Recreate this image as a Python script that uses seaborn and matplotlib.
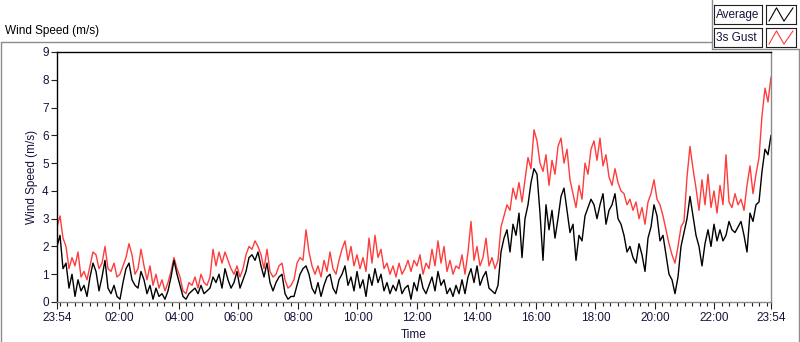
import numpy as np
import pandas as pd
import matplotlib
matplotlib.use("Agg")
import matplotlib.pyplot as plt
import matplotlib.dates as mdates
from matplotlib.lines import Line2D
import seaborn as sns

# ---------------- data ----------------
gust = [2.7, 3.1, 2.3, 2.0, 1.2, 1.6, 1.3, 1.8, 0.9, 1.1, 0.8, 1.3, 1.8, 1.7, 1.2, 1.4, 2.0, 1.2, 1.1, 1.4,
        0.9, 1.0, 1.3, 1.6, 2.1, 1.7, 1.0, 1.2, 1.9, 1.3, 0.8, 1.3, 0.6, 1.0, 0.5, 0.8, 0.4, 0.7, 1.1, 1.6,
        1.2, 0.9, 0.4, 0.3, 0.7, 0.6, 0.9, 0.5, 1.0, 0.7, 0.6, 0.9, 1.9, 1.3, 1.8, 1.4, 1.8, 1.5, 1.2, 1.0,
        1.3, 0.9, 1.2, 1.7, 2.0, 1.9, 2.2, 2.0, 1.7, 1.2, 1.9, 1.1, 0.9, 1.0, 1.3,
        1.4, 0.8, 0.5, 0.6, 0.8, 1.4, 1.6, 1.5, 2.6, 1.8, 1.3, 1.0, 1.3, 0.9, 1.5, 1.1, 1.8, 1.2, 1.0, 1.5,
        1.9, 2.2, 1.5, 2.0, 1.3, 1.7, 1.2, 1.6, 1.1, 2.3, 1.4, 2.4, 1.6, 1.9, 1.2, 1.4, 1.0, 1.3, 0.9, 1.4,
        1.0, 1.2, 1.5, 1.1, 1.5, 1.3, 1.7, 1.0, 1.4, 1.2, 1.9, 1.3, 2.2, 1.4, 2.0, 1.1, 1.5, 1.0, 1.3, 1.2,
        1.7, 1.0, 1.8, 2.9, 1.5, 2.0, 1.3, 1.6, 2.3, 1.3, 1.6, 1.2, 1.5, 2.7, 3.1, 3.5, 3.3, 4.1, 3.7, 4.3,
        3.6, 4.4, 5.2, 4.8, 6.2, 5.8, 5.0, 4.7, 5.3, 4.2, 5.1, 4.6, 5.6, 5.9, 5.0, 5.5, 4.4, 3.9, 3.4, 4.2,
        3.7, 5.0, 4.6, 5.5, 5.8, 5.1, 5.9, 4.9, 5.3, 4.5, 4.2, 4.8, 4.3, 4.0, 3.9, 3.5, 3.7, 3.3, 3.6, 3.0,
        3.4, 2.8, 3.6, 3.9, 4.4, 3.7, 3.5, 3.1, 2.6, 2.1, 1.7, 1.4, 2.0, 2.7, 2.9, 4.5, 5.6, 4.8, 4.1, 3.3,
        4.4, 3.5, 4.6, 3.4, 4.0, 3.2, 4.2, 3.5, 5.3, 3.6, 3.4, 3.9, 3.5, 3.7, 3.3, 4.2, 4.9, 3.9, 4.6, 5.2,
        6.7, 7.7, 7.2, 8.1]

average = [2.0, 2.4, 1.2, 1.4, 0.5, 1.0, 0.2, 0.8, 0.4, 0.6, 0.2, 0.9, 1.4, 1.1, 0.4, 0.9, 1.5, 0.5, 0.3, 0.6,
           0.2, 0.1, 0.7, 1.2, 1.4, 0.8, 0.6, 0.5, 1.1, 0.8, 0.3, 0.6, 0.1, 0.5, 0.2, 0.3, 0.1, 0.4, 0.9, 1.5,
           1.0, 0.6, 0.2, 0.1, 0.3, 0.4, 0.5, 0.3, 0.6, 0.3, 0.4, 0.5, 0.9, 0.7, 1.0, 0.5, 1.2, 0.8, 0.5, 0.7,
           1.1, 0.5, 0.8, 1.1, 1.6, 1.7, 1.5, 1.8, 1.3, 0.9, 1.4, 0.7, 0.4, 0.7, 0.9,
           1.0, 0.3, 0.1, 0.2, 0.2, 0.6, 1.0, 1.2, 1.3, 1.0, 0.5, 0.3, 0.7, 0.2, 0.6, 0.9, 1.0, 0.5, 0.3, 0.8,
           1.0, 1.3, 0.6, 0.9, 0.4, 1.1, 0.5, 0.8, 0.2, 1.0, 0.6, 1.2, 0.7, 1.0, 0.4, 0.7, 0.3, 0.6, 0.4, 0.8,
           0.3, 0.5, 0.6, 0.1, 0.7, 0.4, 1.0, 0.5, 0.3, 0.6, 0.9, 0.4, 1.1, 0.6, 0.8, 0.3, 0.5, 0.2, 0.6, 0.3,
           0.8, 0.3, 0.9, 1.2, 0.7, 1.3, 0.6, 0.9, 1.1, 0.5, 0.4, 0.3, 0.6, 1.8, 2.3, 2.6, 1.8, 2.8, 2.4, 3.2,
           1.6, 3.0, 3.5, 4.3, 4.8, 4.6, 3.2, 1.5, 3.5, 2.6, 3.3, 2.3, 3.0, 3.8, 4.1, 3.3, 2.5, 2.8, 1.5, 2.4,
           2.2, 3.1, 3.4, 3.7, 3.5, 3.0, 3.5, 3.9, 2.8, 3.3, 3.5, 3.9, 3.0, 2.8, 2.4, 1.8, 2.0, 1.6, 1.4, 2.1,
           1.7, 1.1, 2.3, 2.7, 3.5, 3.1, 2.2, 2.4, 1.7, 1.0, 0.8, 0.3, 0.9, 2.0, 2.5, 3.0, 3.8, 3.1, 2.4, 2.0,
           1.3, 2.1, 2.6, 2.0, 2.8, 2.2, 2.6, 2.2, 2.4, 2.9, 2.6, 2.5, 2.7, 2.9, 2.4, 1.8, 3.2, 2.9, 3.5, 3.6,
           4.7, 5.5, 5.3, 6.0]

start = pd.Timestamp("2021-01-01 23:54")
end = pd.Timestamp("2021-01-02 23:54")
times = pd.date_range(start, end, periods=len(gust))

major_ticks = [start] + [pd.Timestamp(f"2021-01-02 {h:02d}:00") for h in range(2, 23, 2)] + [end]
major_labels = ["23:54"] + [f"{h:02d}:00" for h in range(2, 23, 2)] + ["23:54"]
y_ticks = list(range(0, 10))

df = pd.DataFrame({"Time": list(times) * 2,
                   "Wind Speed": gust + average,
                   "Series": ["3s Gust"] * len(gust) + ["Average"] * len(average)})

# ---------------- style ----------------
sns.set_style("white")
plt.rcParams["font.family"] = ["Liberation Sans", "DejaVu Sans"]
text_col = "#14143c"

fig = plt.figure(figsize=(8.0, 3.42), dpi=100)
W, H = 800, 342

ax = fig.add_axes([57 / W, (H - 302) / H, (771 - 57) / W, (302 - 52) / H])
sns.lineplot(data=df, x="Time", y="Wind Speed", hue="Series",
             palette={"3s Gust": "#ff3c3c", "Average": "#000000"},
             hue_order=["3s Gust", "Average"], linewidth=1.0, legend=False, ax=ax,
             estimator=None, sort=False)

ax.set_xlim(start, end)
ax.set_ylim(0, 9)
ax.set_yticks(y_ticks)
ax.set_yticklabels([str(v) for v in y_ticks], fontsize=8.5, color=text_col)
ax.set_xticks([mdates.date2num(t) for t in major_ticks])
ax.set_xticklabels(major_labels, fontsize=8.5, color=text_col)
ax.xaxis.set_minor_locator(mdates.MinuteLocator(byminute=[0, 15, 30, 45]))
ax.tick_params(axis="x", which="major", length=5, width=0.8, color="#202020", pad=2, bottom=True)
ax.tick_params(axis="x", which="minor", length=3, width=0.8, color="#202020", bottom=True)
ax.tick_params(axis="y", which="major", length=4, width=0.8, color="#202020", pad=2, left=True)
ax.set_xlabel("Time", fontsize=8.5, color=text_col, labelpad=4)
ax.set_ylabel("Wind Speed (m/s)", fontsize=8.5, color=text_col, labelpad=3)

for side in ["left", "top"]:
    ax.spines[side].set_color("#000000")
    ax.spines[side].set_linewidth(1.0)
for side in ["bottom", "right"]:
    ax.spines[side].set_color("#8a8a8a")
    ax.spines[side].set_linewidth(1.0)

# ---------------- panel frame and title ----------------
gray = "#8c8c8c"
fig.add_artist(Line2D([0.5 / W, 712 / W], [(H - 42) / H] * 2, color=gray, lw=1.0, transform=fig.transFigure))
fig.add_artist(Line2D([0.5 / W] * 2, [0, (H - 42) / H], color=gray, lw=1.0, transform=fig.transFigure))
fig.add_artist(Line2D([712 / W] * 2, [(H - 49) / H, 1], color=gray, lw=1.0, transform=fig.transFigure))
fig.add_artist(Line2D([712 / W, 1], [(H - 49) / H] * 2, color=gray, lw=1.0, transform=fig.transFigure))
fig.add_artist(Line2D([798.5 / W] * 2, [0, (H - 49) / H], color=gray, lw=1.0, transform=fig.transFigure))
fig.text(5 / W, (H - 31) / H, "Wind Speed (m/s)", fontsize=8.5, color="#000000", va="center", ha="left")

# ---------------- legend (label boxes and line swatches) ----------------
legend_items = [("Average", "#000000", 5), ("3s Gust", "#ff3c3c", 28)]
for label, col, top in legend_items:
    lab_ax = fig.add_axes([714 / W, (H - top - 19) / H, 48 / W, 19 / H])
    lab_ax.set_xticks([]); lab_ax.set_yticks([])
    for s in lab_ax.spines.values():
        s.set_color("#202020"); s.set_linewidth(0.8)
    lab_ax.text(0.05, 0.45, label, fontsize=8.5, color=text_col, va="center", ha="left",
                transform=lab_ax.transAxes)
    sw_ax = fig.add_axes([766 / W, (H - top - 19) / H, 30 / W, 19 / H])
    sw_ax.set_xticks([]); sw_ax.set_yticks([])
    for s in sw_ax.spines.values():
        s.set_color("#202020"); s.set_linewidth(0.8)
    sw_ax.plot([0.1, 0.35, 0.6, 0.9], [0.15, 0.85, 0.15, 0.85], color=col, lw=0.8,
               transform=sw_ax.transAxes)

fig.savefig("out.png", dpi=100, facecolor="white")
